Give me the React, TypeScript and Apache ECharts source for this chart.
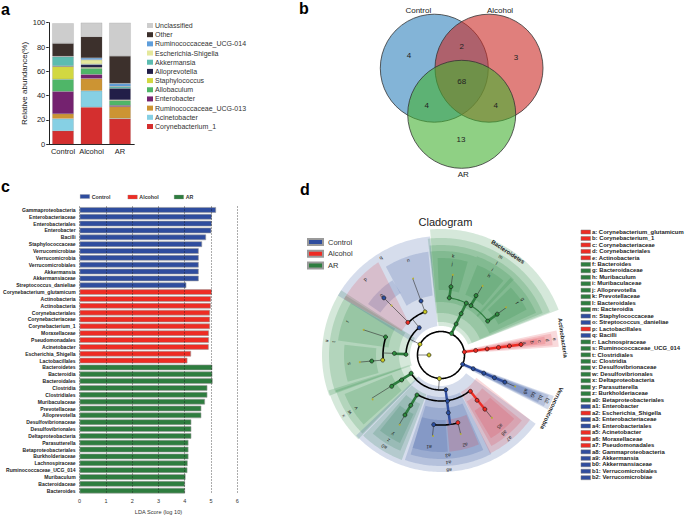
import React, { useEffect, useRef } from "react";
import * as echarts from "echarts";

const FONT = "Liberation Sans";

// ---------- panel a ----------
const abundanceGroups = ["Control", "Alcohol", "AR"];
const corynebacterium1 = [11, 30.5, 21];
const acinetobacter = [10, 13.5, 0.2];
const rumino013 = [4, 10, 9.8];
const enterobacter = [18.5, 3.5, 1];
const allobaculum = [10, 5, 4];
const staphylococcus = [10.5, 0.7, 0.5];
const alloprevotella = [0.5, 2.3, 9.5];
const akkermansia = [7.5, 0.5, 1.5];
const escherichia = [0.3, 3.5, 0.2];
const rumino014 = [0.2, 1.5, 2.3];
const otherTaxa = [10.5, 17.5, 22.5];
const unclassified = [16.5, 11.5, 27.5];
const abundanceNames = ["Corynebacterium_1", "Acinetobacter", "Ruminococcaceae_UCG-013", "Enterobacter", "Allobaculum", "Staphylococcus", "Alloprevotella", "Akkermansia", "Escherichia-Shigella", "Ruminococcaceae_UCG-014", "Other", "Unclassified"];
const abundanceValues = [corynebacterium1, acinetobacter, rumino013, enterobacter, allobaculum, staphylococcus, alloprevotella, akkermansia, escherichia, rumino014, otherTaxa, unclassified];
const abundanceColors = ["#d42f2f", "#86d0e4", "#cc9433", "#74226f", "#4fb668", "#d2d841", "#221e48", "#5cbcb0", "#e4e89c", "#5f9edb", "#3c302c", "#cdcdcd"];

// ---------- panel b ----------
const vennCircles = [
  { name: "Control", x: 58.3, y: 68.2, color: "rgba(49,130,189,0.6)" },
  { name: "Alcohol", x: 113, y: 68.2, color: "rgba(203,42,37,0.6)" },
  { name: "AR", x: 85.7, y: 114.3, color: "rgba(68,177,50,0.6)" },
];
const vennCounts = [
  [33, 55, 4], [85.7, 46, 2], [140, 57, 3], [85.7, 81.7, 68],
  [50.7, 105.3, 4], [119.7, 105.3, 4], [85, 139, 13],
];
const vennTitles = [[42.3, 10, "Control"], [124, 10, "Alcohol"], [87.3, 174.7, "AR"]];

// ---------- panel c ----------
const controlTaxa = ["Gammaproteobacteria", "Enterobacteriaceae", "Enterobacteriales", "Enterobacter", "Bacilli", "Staphylococcaceae", "Verrucomicrobiae", "Verrucomicrobia", "Verrucomicrobiales", "Akkermansia", "Akkermansiaceae", "Streptococcus_danieliae"];
const controlLda = [5.19, 5.03, 5.03, 5.01, 4.81, 4.66, 4.53, 4.53, 4.53, 4.53, 4.53, 4.06];
const alcoholTaxa = ["Corynebacterium_glutamicum", "Actinobacteria", "Actinobacteria", "Corynebacteriales", "Corynebacteriaceae", "Corynebacterium_1", "Moraxellaceae", "Pseudomonadales", "Acinetobacter", "Escherichia_Shigella", "Lactobacillales"];
const alcoholLda = [5.03, 5.0, 4.99, 4.96, 4.96, 4.96, 4.92, 4.92, 4.91, 4.24, 4.1];
const arTaxa = ["Bacteroidetes", "Bacteroidia", "Bacteroidales", "Clostridia", "Clostridiales", "Muribaculaceae", "Prevotellaceae", "Alloprevotella", "Desulfovibrionaceae", "Desulfovibrionales", "Deltaproteobacteria", "Parasutterella", "Betaproteobacteriales", "Burkholderiaceae", "Lachnospiraceae", "Ruminococcaceae_UCG_014", "Muribaculum", "Bacteroidaceae", "Bacteroides"];
const arLda = [5.05, 5.05, 5.06, 4.86, 4.86, 4.77, 4.63, 4.63, 4.25, 4.25, 4.25, 4.14, 4.14, 4.14, 4.11, 4.1, 4.03, 4.01, 4.01];

const BLUE = "#2f4d9e";
const RED = "#ee2c24";
const GREEN = "#2e7d3f";

// ---------- panel d : cladogram, in polar units (radius, clock angle) ----------
type Wedge = [string, number, number, number, number, number?, number?];
const cladeWedges: Wedge[] = [
  ["g", 29, 126, -5, 69], ["g", 33, 117, -6.5, 68.5], ["g", 42, 110, -6, 67.5],
  ["g", 53, 104, -6, 20], ["g", 53, 105, 20, 44], ["g", 53, 104, 42, 66],
  ["g", 65, 97, -2, 16], ["g", 65, 97, 22, 40], ["g", 65, 97, 46, 62],
  ["g", 31, 119, 250, 303], ["g", 42, 112, 250.5, 302], ["g", 53, 104, 278, 300], ["g", 65, 97, 254, 276],
  ["b", 29, 119, 300, 354.7, 294, 353], ["b", 60, 104, 328, 353, 325, 352], ["b", 74, 89, 305, 327],
  ["r", 46, 112, 300, 326, 301, 315],
  ["g", 33, 118, 224.5, 252.5], ["g", 42, 111, 225, 251.5], ["g", 53, 104, 228, 248],
  ["g", 42, 112, 200.5, 224], ["g", 53, 104, 203, 221], ["g", 65, 97, 205, 219],
  ["b", 31, 117, 126, 226.5], ["b", 42, 111, 153, 199], ["b", 53, 104, 156, 197], ["b", 65, 97, 176, 197],
  ["r", 65, 97, 157, 175],
  ["r", 42, 110, 126, 153.5, 123, 152], ["r", 53, 104, 129, 151], ["r", 65, 97, 131, 149],
  ["r", 24, 118, 78, 86], ["r", 35, 112, 79, 85], ["r", 46, 105, 80, 84], ["r", 58, 97, 80.5, 83.5],
  ["b", 24, 120, 110, 117], ["b", 35, 115, 110.5, 116.5], ["b", 46, 108, 111, 116], ["b", 58, 100, 111.5, 115.5],
];
// arcs: kind, radius, from angle, to angle
const cladeArcs: [string, number, number, number][] = [
  ["k", 23.5, 0, 360], ["g", 57.7, 8, 54], ["k", 35, 271, 321.5], ["k", 46, 314.5, 339.7],
  ["k", 58, 265, 288], ["k", 35, 172.5, 238.6], ["k", 46, 141, 211], ["k", 70, 166, 186],
];
// spokes: kind, angle, from radius, to radius
const cladeSpokes: [string, number, number, number][] = [
  ["R", 82.5, 23.5, 80.7], ["B", 113, 23.5, 69.5], ["t", 113, 69.5, 80.5],
  ["G", 26, 23.5, 57.7], ["G", 8.3, 57.7, 69], ["t", 8.3, 69, 81], ["G", 31, 57.7, 69], ["t", 31, 69, 81], ["G", 54, 57.7, 69], ["t", 54, 69, 81],
  ["t", 297, 23.5, 35], ["t", 321.5, 35, 46], ["t", 315, 46, 81], ["t", 339.7, 46, 81],
  ["G", 271.5, 35, 46], ["t", 272, 46, 58], ["t", 288, 58, 81], ["t", 265, 58, 81],
  ["t", 184, 23.5, 35], ["B", 172.5, 35, 70], ["R", 141, 46, 69.7], ["t", 141, 69.7, 81],
  ["G", 211, 46, 70], ["t", 211, 70, 81], ["G", 238, 35, 58.4], ["t", 238, 58.4, 81.5],
  ["t", 186, 70, 81.4], ["t", 166, 70, 81.4], ["t", 270, 12, 23.5],
];
// nodes: kind, radius, angle
const cladeNodes: [string, number, number][] = [
  ["r", 23.5, 82.5], ["r", 35, 82.5], ["r", 46.5, 82.5], ["r", 58, 82.5], ["r", 69, 82.5], ["r", 80.7, 82.5],
  ["b", 23.5, 113], ["b", 35, 113], ["b", 46.5, 113], ["b", 58, 113], ["b", 69.4, 113], ["t", 80.5, 113],
  ["g", 24, 26], ["g", 34.5, 26], ["g", 46, 26], ["g", 57.7, 26],
  ["g", 57.7, 8.2], ["g", 69, 8.3], ["t", 81, 8.4], ["g", 57.7, 31.3], ["g", 69, 30.5], ["t", 80.6, 31], ["g", 57.7, 54], ["g", 69.5, 54], ["t", 80.6, 53.7],
  ["y", 23.6, 297], ["b", 34.9, 321.5], ["y", 46, 339.7], ["r", 46.5, 314.5], ["b", 57.6, 339.7], ["t", 81.5, 340], ["t", 70, 315], ["b", 80.8, 315],
  ["g", 35, 271], ["g", 46.7, 272], ["y", 58.5, 265], ["g", 58.3, 288], ["g", 69.5, 265], ["t", 81.5, 265], ["t", 81.4, 288],
  ["y", 23.7, 184], ["b", 35, 172], ["b", 46.5, 172], ["b", 58.2, 172.8],
  ["g", 46.6, 211], ["g", 58.7, 211], ["g", 70, 211], ["t", 81.1, 210.6],
  ["r", 46.7, 141], ["r", 57.9, 141.5], ["r", 69.7, 141], ["t", 80.9, 141],
  ["g", 35, 238.6], ["g", 46.6, 237.6], ["g", 58.4, 237.6], ["t", 81.5, 237],
  ["b", 70, 186], ["r", 69.7, 166], ["t", 81.4, 185.6], ["t", 81.4, 166],
  ["y", 12, 270],
];
const cladeLetters: [string, number, number][] = [
  ["a", 84.8, 82], ["b", 92.4, 82], ["c", 99.8, 82], ["d", 107.6, 82], ["e", 115, 82],
  ["f", 92.5, 55.6], ["g", 99.5, 55.6], ["h", 93, 31.3], ["i", 100, 31], ["j", 92.4, 7], ["k", 100, 7.1], ["l", 107.5, 31.3], ["m", 115, 31.3],
  ["n", 100.5, 341], ["o", 84.9, 315], ["p", 107.7, 315], ["q", 114.8, 328.3], ["r", 100, 289.7], ["s", 93, 264.6], ["t", 108.5, 277], ["u", 115.8, 277],
  ["v", 100.6, 238], ["w", 108.4, 238], ["x", 115.8, 238], ["y", 93, 211.6], ["z", 100.4, 211.7], ["a0", 108.2, 211.8],
  ["a1", 93, 187.4], ["a2", 93.4, 165], ["a3", 101, 176], ["a4", 108, 176], ["a5", 92.8, 140.5], ["a6", 100.7, 141], ["a7", 108, 140.8], ["a8", 115.6, 176],
  ["a9", 92.6, 113.3], ["b0", 100.6, 113.3], ["b1", 108.7, 113.3], ["b2", 115.7, 113.3],
];
const cladePhyla: [string, number, number][] = [["Bacteroidetes", 123, 33], ["Actinobacteria", 123, 82], ["Verrucomicrobia", 123, 115.7]];

const keyEntries: [string, string][] = [
  ["a: Corynebacterium_glutamicum", "r"], ["b: Corynebacterium_1", "r"], ["c: Corynebacteriaceae", "r"], ["d: Corynebacteriales", "r"], ["e: Actinobacteria", "r"],
  ["f: Bacteroides", "g"], ["g: Bacteroidaceae", "g"], ["h: Muribaculum", "g"], ["i: Muribaculaceae", "g"], ["j: Alloprevotella", "g"], ["k: Prevotellaceae", "g"], ["l: Bacteroidales", "g"], ["m: Bacteroidia", "g"],
  ["n: Staphylococcaceae", "b"], ["o: Streptococcus_danieliae", "b"], ["p: Lactobacillales", "r"], ["q: Bacilli", "b"],
  ["r: Lachnospiraceae", "g"], ["s: Ruminococcaceae_UCG_014", "g"], ["t: Clostridiales", "g"], ["u: Clostridia", "g"], ["v: Desulfovibrionaceae", "g"], ["w: Desulfovibrionales", "g"], ["x: Deltaproteobacteria", "g"], ["y: Parasutterella", "g"], ["z: Burkholderiaceae", "g"], ["a0: Betaproteobacteriales", "g"],
  ["a1: Enterobacter", "b"], ["a2: Escherichia_Shigella", "r"], ["a3: Enterobacteriaceae", "b"], ["a4: Enterobacteriales", "b"], ["a5: Acinetobacter", "r"], ["a6: Moraxellaceae", "r"], ["a7: Pseudomonadales", "r"], ["a8: Gammaproteobacteria", "b"], ["a9: Akkermansia", "b"],
  ["b0: Akkermansiaceae", "b"], ["b1: Verrucomicrobiales", "b"], ["b2: Verrucomicrobiae", "b"],
];
const panelLetters: [string, number, number][] = [["a", 1, 1], ["b", 299, 0], ["c", 1, 178], ["d", 300, 181]];

function buildOption() {
  const wedgeFill: Record<string, string> = { g: "rgba(45,140,70,0.2)", b: "rgba(48,85,160,0.2)", r: "rgba(220,50,60,0.18)" };
  const keyFill: Record<string, string> = { g: GREEN, b: BLUE, r: RED };
  const lineStyleOf: Record<string, { stroke: string; lineWidth: number }> = {
    k: { stroke: "#000", lineWidth: 1.6 },
    g: { stroke: GREEN, lineWidth: 1.2 },
    t: { stroke: "#333", lineWidth: 0.6 },
    R: { stroke: RED, lineWidth: 2.4 },
    B: { stroke: BLUE, lineWidth: 2.4 },
    G: { stroke: GREEN, lineWidth: 2.6 },
  };
  const nodeColor: Record<string, string> = { r: "#ee2c24", b: "#2a4ea0", g: "#2e8b3e", y: "#c9c924", t: "#b5b030" };

  const ldaCats = [...controlTaxa, ...alcoholTaxa, ...arTaxa];
  const blanks = (n: number) => new Array(n).fill(null);
  const ldaSeries = [
    { name: "Control", data: [...controlLda, ...blanks(alcoholLda.length + arLda.length)], color: BLUE },
    { name: "Alcohol", data: [...blanks(controlLda.length), ...alcoholLda, ...blanks(arLda.length)], color: RED },
    { name: "AR", data: [...blanks(controlLda.length + alcoholLda.length), ...arLda], color: GREEN },
  ].map((s) => ({
    type: "bar", name: s.name, xAxisIndex: 1, yAxisIndex: 1, stack: "lda", barWidth: 5.6, data: s.data,
    itemStyle: { color: s.color, borderColor: "#9a9a9a", borderWidth: 0.6 },
  }));

  const abundanceSeries = abundanceNames.map((name, i) => ({
    type: "bar", name, xAxisIndex: 0, yAxisIndex: 0, stack: "abundance", barWidth: 21.5, data: abundanceValues[i],
    itemStyle: { color: abundanceColors[i], borderColor: "rgba(120,120,120,0.45)", borderWidth: 0.4 },
  }));

  const smallLegend = (name: string, left: number, top: number) => ({
    show: true, data: [name], left, top, itemWidth: 9.5, itemHeight: 4, itemGap: 2, selectedMode: false, padding: 0,
    itemStyle: { borderWidth: 0.3 },
    textStyle: { fontFamily: FONT, fontSize: 5.3, fontWeight: "bold", color: "#333", padding: [0, 0, 0, -3] },
    icon: "rect",
  });

  return {
    animation: false,
    backgroundColor: "#fff",
    textStyle: { fontFamily: FONT },
    title: {
      text: "Cladogram", left: 418.5, top: 216, padding: 0, itemGap: 0,
      textStyle: { fontFamily: FONT, fontSize: 11, fontWeight: "normal", color: "#222", lineHeight: 12 },
    },
    grid: [
      { left: 48.75, top: 22.7, width: 85.5, height: 121.6 },
      { left: 78, top: 206.5, width: 159.3, height: 294.3 },
      { left: 376, top: 0, width: 180, height: 180, show: false },
    ],
    polar: { center: [441, 355], radius: [0, 128] },
    radiusAxis: { polarIndex: 0, min: 0, max: 128, show: false },
    angleAxis: { polarIndex: 0, type: "value", min: 0, max: 360, startAngle: 90, clockwise: true, show: false },
    xAxis: [
      {
        type: "category", gridIndex: 0, data: abundanceGroups,
        axisLine: { lineStyle: { color: "#222", width: 1 } }, axisTick: { length: 2.5, lineStyle: { color: "#222" } },
        axisLabel: { interval: 0, hideOverlap: false, fontFamily: FONT, fontSize: 7.5, color: "#222", margin: 3.5 },
      },
      {
        type: "value", gridIndex: 1, min: 0, max: 6, interval: 1, z: 6,
        name: "LDA Score (log 10)", nameLocation: "middle", nameGap: 12,
        nameTextStyle: { fontFamily: FONT, fontSize: 5.6, color: "#333" },
        axisLine: { show: false }, axisTick: { length: 1.5, lineStyle: { color: "#555", width: 0.6 } },
        axisLabel: { fontFamily: FONT, fontSize: 5.5, color: "#333", margin: 4 },
        splitLine: { show: true, lineStyle: { type: [1, 2], color: "#111", width: 0.7 } },
      },
      {
        type: "value", gridIndex: 1, position: "top", min: 0, max: 6, interval: 1,
        axisLine: { show: false }, axisLabel: { show: false }, splitLine: { show: false },
        axisTick: { length: 1.5, lineStyle: { color: "#555", width: 0.6 } },
      },
      { type: "value", gridIndex: 2, min: 0, max: 180, show: false },
    ],
    yAxis: [
      {
        type: "value", gridIndex: 0, min: 0, max: 100, interval: 20,
        name: "Relative abundance(%)", nameLocation: "middle", nameGap: 19,
        nameTextStyle: { fontFamily: FONT, fontSize: 8, color: "#222" },
        axisLine: { show: true, lineStyle: { color: "#222", width: 1 } }, axisTick: { show: true, length: 2.5, lineStyle: { color: "#222" } },
        axisLabel: { fontFamily: FONT, fontSize: 7.5, color: "#222", margin: 3.5 }, splitLine: { show: false },
      },
      {
        type: "category", gridIndex: 1, inverse: true, data: ldaCats,
        axisLine: { show: false }, axisTick: { show: false },
        axisLabel: { interval: 0, fontFamily: FONT, fontSize: 5.05, fontWeight: "bold", color: "#222", margin: 4 },
      },
      { type: "value", gridIndex: 2, min: 0, max: 180, inverse: true, show: false },
    ],
    legend: [
      {
        show: true, orient: "vertical", left: 147, top: 22, data: [...abundanceNames].reverse(), icon: "rect",
        itemWidth: 6, itemHeight: 5, itemGap: 2.18, selectedMode: false, padding: 0,
        itemStyle: { borderWidth: 0 },
        textStyle: { fontFamily: FONT, fontSize: 7, lineHeight: 7, color: "#333", padding: [0, 0, 0, -3] },
      },
      smallLegend("Control", 80, 194),
      smallLegend("Alcohol", 127.7, 194.5),
      smallLegend("AR", 174, 194.5),
      {
        show: true, orient: "vertical", left: 307, top: 238, data: ["Control", "Alcohol", "AR"], icon: "rect",
        itemWidth: 15, itemHeight: 6, itemGap: 3.8, selectedMode: false, padding: 0,
        textStyle: { fontFamily: FONT, fontSize: 7.5, lineHeight: 6, color: "#333" },
      },
    ],
    series: [
      ...abundanceSeries,
      ...ldaSeries,
      {
        type: "scatter", xAxisIndex: 3, yAxisIndex: 2, symbolSize: 108, silent: true, clip: false,
        data: vennCircles.map((c) => ({ value: [c.x, c.y], itemStyle: { opacity: 1, color: c.color, borderColor: "#333", borderWidth: 0.8 } })),
      },
      {
        type: "scatter", xAxisIndex: 3, yAxisIndex: 2, symbolSize: 0, silent: true, clip: false, z: 4,
        itemStyle: { opacity: 1 },
        data: vennCounts.map((c) => ({ value: c })),
        label: { show: true, position: "inside", formatter: (p: any) => String(p.value[2]), fontFamily: FONT, fontSize: 8, color: "#222" },
      },
      {
        type: "scatter", xAxisIndex: 3, yAxisIndex: 2, symbolSize: 0, silent: true, clip: false, z: 4,
        itemStyle: { opacity: 1 },
        data: vennTitles.map((c) => ({ value: [c[0], c[1]], name: c[2] as string })),
        label: { show: true, position: "inside", formatter: "{b}", fontFamily: FONT, fontSize: 8, color: "#222" },
      },
      {
        type: "custom", coordinateSystem: "polar", silent: true, z: 1,
        data: cladeWedges.map((w) => [w[2], w[3]]),
        renderItem: (p: any, api: any) => {
          const [k, r0, r1, a0, a1, i0, i1] = cladeWedges[p.dataIndex];
          const points: number[][] = [];
          const steps = Math.max(2, Math.ceil(a1 - a0));
          for (let s = 0; s <= steps; s++) points.push(api.coord([r1, a0 + ((a1 - a0) * s) / steps]));
          const b0 = i0 ?? a0;
          const b1 = i1 ?? a1;
          for (let s = steps; s >= 0; s--) points.push(api.coord([r0, b0 + ((b1 - b0) * s) / steps]));
          return { type: "polygon", shape: { points }, style: { fill: wedgeFill[k] } };
        },
      },
      {
        type: "custom", coordinateSystem: "polar", silent: true, z: 3,
        data: cladeArcs.map((a) => [a[1], a[2]]),
        renderItem: (p: any, api: any) => {
          const [k, r, a0, a1] = cladeArcs[p.dataIndex];
          const points: number[][] = [];
          const steps = Math.max(2, Math.ceil((a1 - a0) / 2));
          for (let s = 0; s <= steps; s++) points.push(api.coord([r, a0 + ((a1 - a0) * s) / steps]));
          return { type: "polyline", shape: { points }, style: { fill: "none", ...lineStyleOf[k] } };
        },
      },
      {
        type: "custom", coordinateSystem: "polar", silent: true, z: 3,
        data: cladeSpokes.map((a) => [a[2], a[1]]),
        renderItem: (p: any, api: any) => {
          const [k, a, r0, r1] = cladeSpokes[p.dataIndex];
          return { type: "polyline", shape: { points: [api.coord([r0, a]), api.coord([r1, a])] }, style: { fill: "none", ...lineStyleOf[k] } };
        },
      },
      {
        type: "scatter", coordinateSystem: "polar", silent: true, z: 4,
        data: cladeNodes.map((n) => ({
          value: [n[1], n[2]],
          symbolSize: n[0] === "t" ? 1.8 : 4,
          itemStyle: { opacity: 1, color: nodeColor[n[0]], borderColor: n[0] === "t" ? "none" : "#111", borderWidth: n[0] === "t" ? 0 : 0.6 },
        })),
      },
      {
        type: "custom", coordinateSystem: "polar", silent: true, z: 5,
        data: [...cladeLetters, ...cladePhyla].map((l) => [l[1], l[2]]),
        renderItem: (p: any, api: any) => {
          const phylum = p.dataIndex >= cladeLetters.length;
          const [text, r, a] = phylum ? cladePhyla[p.dataIndex - cladeLetters.length] : cladeLetters[p.dataIndex];
          const [x, y] = api.coord([r, a]);
          return {
            type: "text", x, y, rotation: (-a * Math.PI) / 180,
            style: { text, fontFamily: FONT, fontSize: phylum ? 5.8 : 5, fontWeight: phylum ? "bold" : "normal", fill: "#222", align: "center", verticalAlign: "middle" },
          };
        },
      },
    ],
    graphic: [
      ...panelLetters.map(([text, x, y]) => ({
        type: "text", x, y, style: { text, fontFamily: FONT, fontSize: 16, fontWeight: "bold", fill: "#000" },
      })),
      ...keyEntries.flatMap(([text, k], i) => {
        const y = 232 + i * 6.466;
        return [
          { type: "rect", shape: { x: 581, y: y - 2, width: 9.5, height: 4 }, style: { fill: keyFill[k], stroke: "#777", lineWidth: 0.5 } },
          { type: "text", x: 592, y: y - 3.3, style: { text, fontFamily: FONT, fontSize: 5.9, fontWeight: "bold", fill: "#222" } },
        ];
      }),
    ],
  };
}

export default function App() {
  const ref = useRef<HTMLDivElement>(null);
  useEffect(() => {
    document.body.style.margin = "0";
    const chart = echarts.init(ref.current!, undefined, { renderer: "svg" });
    chart.setOption(buildOption() as any);
    return () => chart.dispose();
  }, []);
  return <div ref={ref} style={{ width: 685, height: 520, background: "#fff" }} />;
}
